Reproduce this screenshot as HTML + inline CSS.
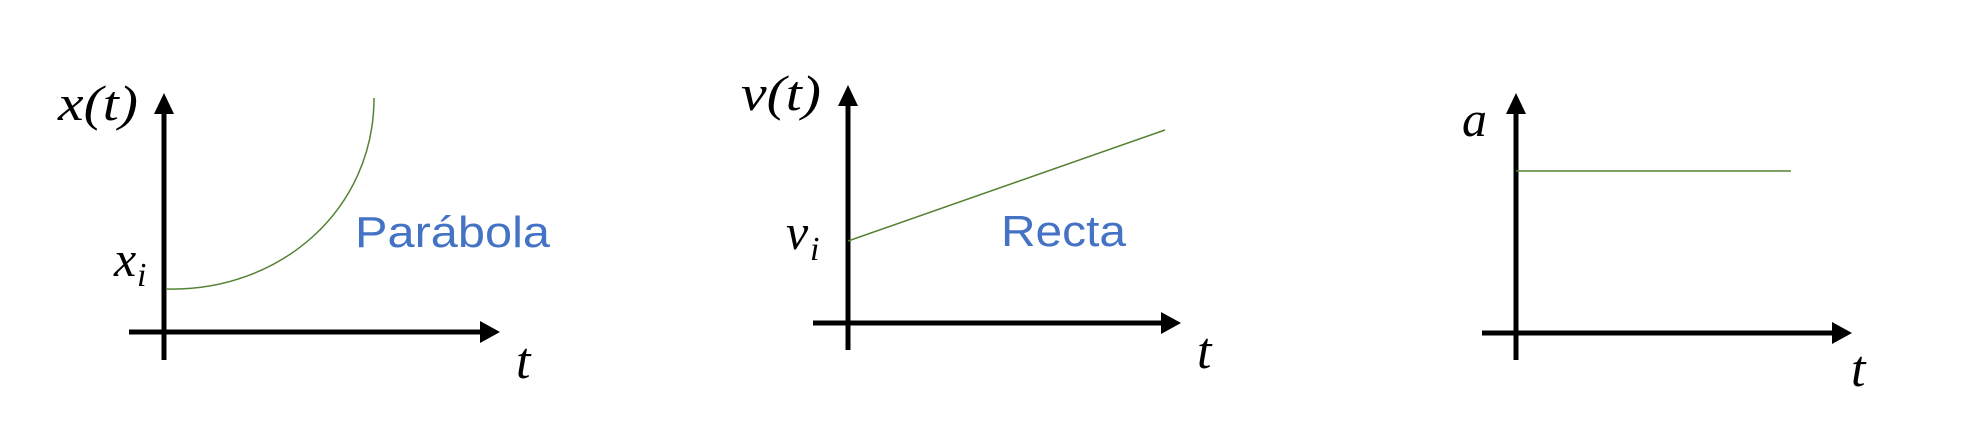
<!DOCTYPE html>
<html><head><meta charset="utf-8"><style>
html,body{margin:0;padding:0;background:#fff;}
svg{display:block;}
.m{font-family:"Liberation Serif",serif;font-style:italic;fill:#000;}
.b{font-family:"Liberation Sans",sans-serif;fill:#4472C4;}
</style></head><body>
<svg width="1962" height="440" viewBox="0 0 1962 440" xmlns="http://www.w3.org/2000/svg">
<rect width="1962" height="440" fill="#fff"/>
<!-- Panel 1 -->
<line x1="164" y1="112" x2="164" y2="360" stroke="#000" stroke-width="5"/>
<polygon points="164,93 154,114 174,114" fill="#000"/>
<line x1="129" y1="332" x2="482" y2="332" stroke="#000" stroke-width="5"/>
<polygon points="500,332 480,321 480,343" fill="#000"/>
<path d="M166,289 C280,292 374,210 374,98" fill="none" stroke="#548235" stroke-width="1.5"/>
<text class="b" x="355" y="247" font-size="44" textLength="195" lengthAdjust="spacingAndGlyphs">Parábola</text>
<text class="m" x="58" y="120" font-size="50" textLength="80" lengthAdjust="spacingAndGlyphs">x(t)</text>
<text class="m" x="114" y="276" font-size="50">x</text>
<text class="m" x="137" y="286" font-size="34">i</text>
<text class="m" x="516" y="378" font-size="52">t</text>
<!-- Panel 2 -->
<line x1="848" y1="104" x2="848" y2="350" stroke="#000" stroke-width="5"/>
<polygon points="848,85 838,106 858,106" fill="#000"/>
<line x1="813" y1="323" x2="1163" y2="323" stroke="#000" stroke-width="5"/>
<polygon points="1181,323 1161,312 1161,334" fill="#000"/>
<line x1="848" y1="241" x2="1165" y2="130" stroke="#548235" stroke-width="1.5"/>
<text class="b" x="1001" y="246" font-size="44" textLength="125" lengthAdjust="spacingAndGlyphs">Recta</text>
<text class="m" x="741" y="110" font-size="50" textLength="80" lengthAdjust="spacingAndGlyphs">v(t)</text>
<text class="m" x="786" y="249" font-size="50">v</text>
<text class="m" x="810" y="260" font-size="34">i</text>
<text class="m" x="1197" y="368" font-size="52">t</text>
<!-- Panel 3 -->
<line x1="1516" y1="112" x2="1516" y2="360" stroke="#000" stroke-width="5"/>
<polygon points="1516,93 1506,114 1526,114" fill="#000"/>
<line x1="1482" y1="333" x2="1834" y2="333" stroke="#000" stroke-width="5"/>
<polygon points="1852,333 1832,322 1832,344" fill="#000"/>
<line x1="1516" y1="171" x2="1791" y2="171" stroke="#548235" stroke-width="1.5"/>
<text class="m" x="1462" y="136" font-size="50">a</text>
<text class="m" x="1851" y="386" font-size="52">t</text>
</svg>
</body></html>
